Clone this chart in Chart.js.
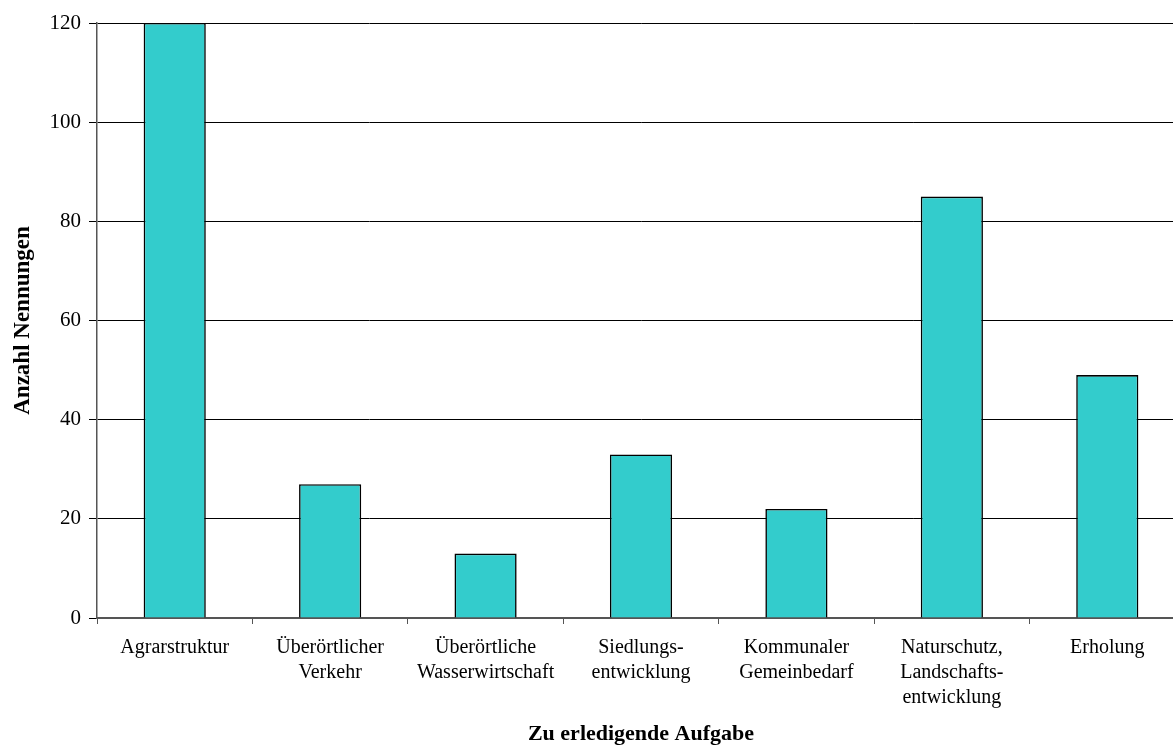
<!DOCTYPE html>
<html>
<head>
<meta charset="utf-8">
<script src="https://cdn.jsdelivr.net/npm/chart.js@4/dist/chart.umd.min.js"></script>
<style>
  html, body { margin: 0; padding: 0; background: #fff; overflow: hidden; }
  #wrap { width: 1173px; height: 745px; overflow: hidden; }
  canvas { display: block; }
</style>
</head>
<body>
<div id="wrap"><canvas id="c" width="1185" height="745"></canvas></div>
<script>
const categories = [
  "Agrarstruktur",
  ["Überörtlicher", "Verkehr"],
  ["Überörtliche", "Wasserwirtschaft"],
  ["Siedlungs-", "entwicklung"],
  ["Kommunaler", "Gemeinbedarf"],
  ["Naturschutz,", "Landschafts-", "entwicklung"],
  "Erholung"
];
const values = [120, 27, 13, 33, 22, 85, 49];
const yTitle = "Anzahl Nennungen";
const xTitle = "Zu erledigende Aufgabe";
const yMin = 0, yMax = 120, yStep = 20;

const FONT = "'Liberation Serif', 'Times New Roman', serif";

new Chart(document.getElementById('c'), {
  type: 'bar',
  data: {
    labels: categories,
    datasets: [{
      data: values,
      backgroundColor: '#33CCCC',
      borderColor: '#000000',
      borderWidth: 1.6,
      barPercentage: 0.4,
      categoryPercentage: 1.0
    }]
  },
  options: {
    responsive: false,
    animation: false,
    devicePixelRatio: 1,
    layout: { padding: { top: 23, left: 0, right: 0, bottom: 0 } },
    plugins: {
      legend: { display: false },
      tooltip: { enabled: false }
    },
    scales: {
      x: {
        offset: true,
        grid: {
          display: true,
          offset: true,
          drawOnChartArea: false,
          drawTicks: true,
          tickLength: 6,
          color: '#555555',
          lineWidth: 1
        },
        border: { display: true, color: '#555555', width: 2 },
        ticks: {
          color: '#000000',
          font: { family: FONT, size: 20, lineHeight: 1.25 },
          padding: 11,
          maxRotation: 0,
          autoSkip: false
        },
        title: {
          display: true,
          text: xTitle,
          color: '#000000',
          font: { family: FONT, size: 22, weight: 'bold', lineHeight: 1.0 },
          padding: { top: 0, bottom: 0 }
        },
        afterFit: (s) => { s.height = 127; }
      },
      y: {
        min: yMin,
        max: yMax,
        ticks: {
          stepSize: yStep,
          color: '#000000',
          font: { family: FONT, size: 21 },
          padding: 8
        },
        grid: {
          color: '#000000',
          lineWidth: 1,
          drawTicks: true,
          tickLength: 8
        },
        border: { display: true, color: '#555555', width: 1.5 },
        title: {
          display: true,
          text: yTitle,
          color: '#000000',
          font: { family: FONT, size: 23, weight: 'bold', lineHeight: 1.2 },
          padding: { top: 9, bottom: 0 }
        },
        afterFit: (s) => { s.width = 97; }
      }
    }
  }
});
</script>
</body>
</html>
